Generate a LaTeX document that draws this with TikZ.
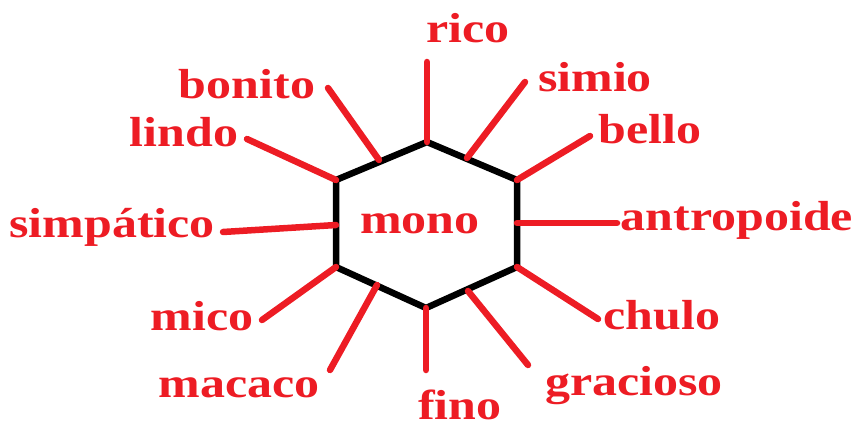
\documentclass[tikz,border=0pt]{standalone}
\usepackage{fontspec}
\newfontfamily\labfont{Liberation Serif}[FakeStretch=1.19]
\definecolor{pred}{RGB}{237,28,36}
\begin{document}
\begin{tikzpicture}[x=1pt,y=-1pt,
  lab/.style={text=pred,font=\labfont\bfseries\fontsize{42}{50}\selectfont,inner sep=0pt,anchor=base},
  spoke/.style={draw=pred,line width=6.5pt,line cap=round},
  hexe/.style={draw=black,line width=6.5pt,line join=miter}]
\useasboundingbox (0,0) rectangle (859,428);
% hexagon vertices
\coordinate (ht) at (427,142);
\coordinate (hur) at (517,180);
\coordinate (hlr) at (517,267);
\coordinate (hb) at (426,308);
\coordinate (hll) at (336,267);
\coordinate (hul) at (336,180);
\draw[hexe] (ht) -- (hur) -- (hlr) -- (hb) -- (hll) -- (hul) -- cycle;
% points on edges
\coordinate (psimio) at (467,158);
\coordinate (pantro) at (517,223);
\coordinate (pgrac) at (468,291);
\coordinate (pmacaco) at (377,285);
\coordinate (psimpa) at (336,225);
\coordinate (pbonito) at (379,160);
% free ends
\coordinate (erico) at (427,62);
\coordinate (esimio) at (525,82);
\coordinate (ebello) at (590,136);
\coordinate (eantro) at (617,223);
\coordinate (echulo) at (598,319);
\coordinate (egrac) at (528,365);
\coordinate (efino) at (426,370);
\coordinate (emacaco) at (330,370);
\coordinate (emico) at (262,320);
\coordinate (esimpa) at (223,232);
\coordinate (elindo) at (247,139);
\coordinate (ebonito) at (328,88);
% spokes
\draw[spoke] (ht) -- (erico);
\draw[spoke] (psimio) -- (esimio);
\draw[spoke] (hur) -- (ebello);
\draw[spoke] (pantro) -- (eantro);
\draw[spoke] (hlr) -- (echulo);
\draw[spoke] (pgrac) -- (egrac);
\draw[spoke] (hb) -- (efino);
\draw[spoke] (pmacaco) -- (emacaco);
\draw[spoke] (hll) -- (emico);
\draw[spoke] (psimpa) -- (esimpa);
\draw[spoke] (hul) -- (elindo);
\draw[spoke] (pbonito) -- (ebonito);
% labels
\node[lab] (mono) at (420,233) {mono};
\node[lab] (rico) at (468,43) {rico};
\node[lab] (simio) at (595,92) {simio};
\node[lab] (bello) at (650,143) {bello};
\node[lab] (antropoide) at (737,230) {antropoide};
\node[lab] (chulo) at (662,329) {chulo};
\node[lab] (gracioso) at (634,395) {gracioso};
\node[lab] (fino) at (460,419) {fino};
\node[lab] (macaco) at (239,397) {macaco};
\node[lab] (mico) at (202,330) {mico};
\node[lab] (simpatico) at (112,237) {simpático};
\node[lab] (lindo) at (184,146) {lindo};
\node[lab] (bonito) at (247,98) {bonito};
\end{tikzpicture}
\end{document}
